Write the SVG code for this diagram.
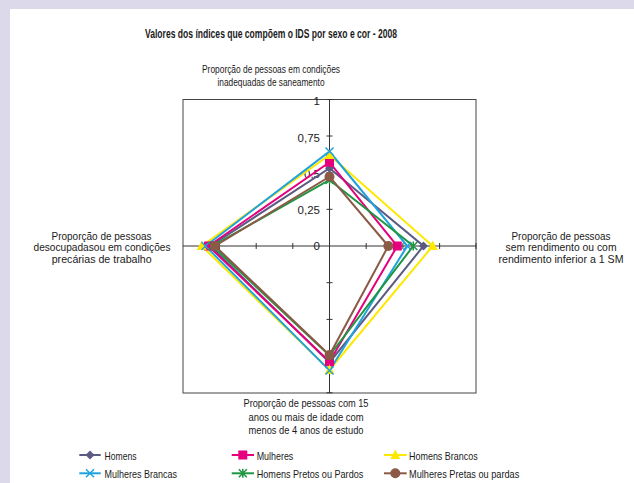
<svg xmlns="http://www.w3.org/2000/svg" xmlns:xlink="http://www.w3.org/1999/xlink" width="634" height="483" viewBox="0 0 634 483">
<style>
text{font-family:"Liberation Sans",Arial,sans-serif;fill:#1a1a1a}
.lbl{font-size:11px}
.title{font-size:12px;font-weight:bold}
.ax{font-size:11.5px;text-anchor:end}
.c{text-anchor:middle}
.frame{fill:none;stroke:#444;stroke-width:1}
.axis{stroke:#333;stroke-width:1;fill:none}
.s{fill:none;stroke-width:2;stroke-linejoin:miter}
.hom{stroke:#5b5a83}
.mul{stroke:#e5007d}
.hb{stroke:#ffe800}
.mb{stroke:#1fa3de}
.hp{stroke:#1e9642}
.mp{stroke:#8b5a46}
</style>
<defs>
<polygon id="mk-diamond" points="0,-4.5 4.5,0 0,4.5 -4.5,0" fill="#5b5a83"/>
<rect id="mk-square" x="-4.5" y="-4.5" width="9" height="9" fill="#e5007d"/>
<polygon id="mk-tri" points="0,-5.5 5,4 -5,4" fill="#ffe800"/>
<path id="mk-x" d="M-4,-4L4,4M-4,4L4,-4" stroke="#1fa3de" stroke-width="1.5" fill="none"/>
<path id="mk-ast" d="M-4,-4L4,4M-4,4L4,-4M0,-4.5V4.5" stroke="#1e9642" stroke-width="1.5" fill="none"/>
<circle id="mk-circ" r="5" fill="#8b5a46"/>
</defs>
<rect x="0" y="0" width="634" height="483" fill="#dcd9ea"/>
<rect x="10" y="9" width="624" height="474" fill="#ffffff"/>

<text class="title c" x="271" y="37.5" textLength="252" lengthAdjust="spacingAndGlyphs">Valores dos índices que compõem o IDS por sexo e cor - 2008</text>

<g id="node-saneamento">
<text class="lbl c" x="271" y="72.5" textLength="138" lengthAdjust="spacingAndGlyphs">Proporção de pessoas em condições</text>
<text class="lbl c" x="271" y="86" textLength="107" lengthAdjust="spacingAndGlyphs">inadequadas de saneamento</text>
</g>
<g id="node-desocupadas">
<text class="lbl c" x="101.5" y="239.5" textLength="100" lengthAdjust="spacingAndGlyphs">Proporção de pessoas</text>
<text class="lbl c" x="102" y="251" textLength="137" lengthAdjust="spacingAndGlyphs">desocupadasou em condições</text>
<text class="lbl c" x="101.7" y="262.5" textLength="100" lengthAdjust="spacingAndGlyphs">precárias de trabalho</text>
</g>
<g id="node-rendimento">
<text class="lbl c" x="561" y="239.5" textLength="99" lengthAdjust="spacingAndGlyphs">Proporção de pessoas</text>
<text class="lbl c" x="561" y="251" textLength="111" lengthAdjust="spacingAndGlyphs">sem rendimento ou com</text>
<text class="lbl c" x="561" y="262.5" textLength="125" lengthAdjust="spacingAndGlyphs">rendimento inferior a 1 SM</text>
</g>
<g id="node-estudo">
<text class="lbl c" x="306" y="407" textLength="125" lengthAdjust="spacingAndGlyphs">Proporção de pessoas com 15</text>
<text class="lbl c" x="306" y="420.5" textLength="115" lengthAdjust="spacingAndGlyphs">anos ou mais de idade com</text>
<text class="lbl c" x="306" y="434" textLength="115" lengthAdjust="spacingAndGlyphs">menos de 4 anos de estudo</text>
</g>

<g id="chart-frame">
<rect class="frame" x="183" y="99.5" width="293" height="293.5"/>
<path class="axis" d="M183,246H476M329.5,99.5V393"/>
<path class="axis" d="M326.5,136H332.5M326.5,172.6H332.5M326.5,209.3H332.5M326.5,282.7H332.5M326.5,319.4H332.5M326.5,356H332.5M326.5,392.8H332.5M326.5,99.5H332.5M219.5,243V249M256.2,243V249M292.8,243V249M366.2,243V249M402.9,243V249M439.6,243V249M476,243V249"/>
<text class="ax" x="320" y="105">1</text>
<text class="ax" x="320" y="142">0,75</text>
<text class="ax" x="320" y="177.5">0,5</text>
<text class="ax" x="320" y="213.5">0,25</text>
<text class="ax" x="320" y="250">0</text>
</g>

<g id="connectors">
<polygon class="s hom" points="329.5,168.2 423.5,246 329.5,362.5 210.5,246"/>
<polygon class="s mul" points="329.5,162.3 397.3,246 329.5,361.7 208.5,246"/>
<polygon class="s hb" points="329.5,155 432.7,246 329.5,370 201.7,246"/>
<polygon class="s mb" points="329.5,151.5 407.3,246 329.5,370.5 205.5,246"/>
<polygon class="s hp" points="329.5,180 413.3,246 329.5,355.5 212.5,246"/>
<polygon class="s mp" points="329.5,176.7 388.3,246 329.5,355 215,246"/>
</g>

<g id="markers">
<use href="#mk-diamond" x="329.5" y="168.2"/><use href="#mk-diamond" x="423.5" y="246"/><use href="#mk-diamond" x="329.5" y="362.5"/><use href="#mk-diamond" x="210.5" y="246"/>
<use href="#mk-square" x="329.5" y="162.3"/><use href="#mk-square" x="397.3" y="246"/><use href="#mk-square" x="329.5" y="361.7"/><use href="#mk-square" x="208.5" y="246"/>
<use href="#mk-tri" x="329.5" y="155"/><use href="#mk-tri" x="432.7" y="246"/><use href="#mk-tri" x="329.5" y="370"/><use href="#mk-tri" x="201.7" y="246"/>
<use href="#mk-x" x="329.5" y="151.5"/><use href="#mk-x" x="407.3" y="246"/><use href="#mk-x" x="329.5" y="370.5"/><use href="#mk-x" x="205.5" y="246"/>
<use href="#mk-ast" x="329.5" y="180"/><use href="#mk-ast" x="413.3" y="246"/><use href="#mk-ast" x="329.5" y="355.5"/><use href="#mk-ast" x="212.5" y="246"/>
<use href="#mk-circ" x="329.5" y="176.7"/><use href="#mk-circ" x="388.3" y="246"/><use href="#mk-circ" x="329.5" y="355"/><use href="#mk-circ" x="215" y="246"/>
</g>

<g id="legend">
<g id="leg-homens"><path class="s hom" d="M79.3,455H100.7"/><use href="#mk-diamond" x="90" y="455"/><text class="lbl" x="104.5" y="459.5" textLength="32" lengthAdjust="spacingAndGlyphs">Homens</text></g>
<g id="leg-mulheres"><path class="s mul" d="M231.7,455H254"/><use href="#mk-square" x="242.8" y="455"/><text class="lbl" x="256.7" y="459.5" textLength="36.6" lengthAdjust="spacingAndGlyphs">Mulheres</text></g>
<g id="leg-hb"><path class="s hb" d="M384,455H406.7"/><use href="#mk-tri" x="395.3" y="455"/><text class="lbl" x="409" y="459.5" textLength="68.7" lengthAdjust="spacingAndGlyphs">Homens Brancos</text></g>
<g id="leg-mb"><path class="s mb" d="M79.3,473.3H100.7"/><use href="#mk-x" x="90" y="473.3"/><text class="lbl" x="104.5" y="477.8" textLength="72.4" lengthAdjust="spacingAndGlyphs">Mulheres Brancas</text></g>
<g id="leg-hp"><path class="s hp" d="M231.7,473.3H254"/><use href="#mk-ast" x="242.8" y="473.3"/><text class="lbl" x="256.7" y="477.8" textLength="106.6" lengthAdjust="spacingAndGlyphs">Homens Pretos ou Pardos</text></g>
<g id="leg-mp"><path class="s mp" d="M384,473.3H406.7"/><use href="#mk-circ" x="395.3" y="473.3"/><text class="lbl" x="409" y="477.8" textLength="110.3" lengthAdjust="spacingAndGlyphs">Mulheres Pretas ou pardas</text></g>
</g>
</svg>
